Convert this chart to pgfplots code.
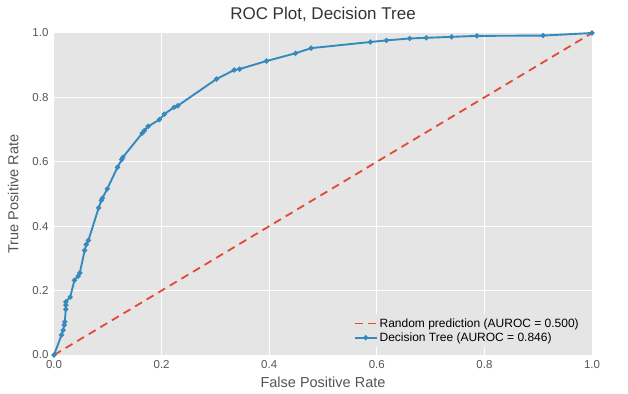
\documentclass[border=0pt]{standalone}
\usepackage{pgfplots}
\pgfplotsset{compat=1.18}
\usepackage{fontspec}
\setmainfont{Liberation Sans}
\definecolor{ggbg}{HTML}{E5E5E5}
\definecolor{ggred}{HTML}{E24A33}
\definecolor{ggblue}{HTML}{348ABD}
\definecolor{ggtext}{HTML}{555555}
\pgfplotsset{
  dashleg/.style={legend image code/.code={\draw[ggred, line width=1.8pt, dash pattern=on 8pt off 5.5pt] (0pt,0pt) -- (22pt,0pt);}},
  markleg/.style={legend image code/.code={\draw[ggblue, line width=1.9pt] (0pt,0pt) -- (22pt,0pt); \fill[ggblue] (11pt,0pt) circle (1.5pt);}},
}
\begin{document}
\begin{tikzpicture}
\begin{axis}[
  width=538pt, height=322pt, scale only axis,
  xmin=0, xmax=1, ymin=0, ymax=1,
  xtick={0,0.2,0.4,0.6,0.8,1}, ytick={0,0.2,0.4,0.6,0.8,1},
  axis background/.style={fill=ggbg},
  axis line style={draw=none},
  grid=major, grid style={white, line width=1pt},
  major tick length=0pt,
  /pgf/number format/.cd, fixed, fixed zerofill, precision=1, assume math mode=true,
  /pgfplots/.cd,
  tick label style={font=\fontsize{11.5}{13}\selectfont, text=ggtext},
  xticklabel style={yshift=-2pt},
  yticklabel style={xshift=-2pt},
  title={ROC Plot, Decision Tree},
  title style={font=\fontsize{17}{20}\selectfont, text=black!80, at={(axis description cs:0.5,1.04)}, anchor=center},
  xlabel={False Positive Rate}, ylabel={True Positive Rate},
  label style={font=\fontsize{14.5}{17}\selectfont, text=ggtext},
  xlabel style={at={(axis description cs:0.5,-0.086)}, anchor=center},
  ylabel style={at={(axis description cs:-0.076,0.5)}, anchor=center},
  legend style={at={(0.985,0.025)}, anchor=south east, draw=none, fill=ggbg,
    font=\fontsize{12}{14}\selectfont, row sep=0pt},
  legend cell align=left,
]
\addplot[ggred, line width=1.8pt, dash pattern=on 8pt off 5.5pt, no marks, dashleg] coordinates {(0,0) (1,1)};
\addlegendentry{Random prediction (AUROC = 0.500)}
\addplot[ggblue, line width=1.9pt, mark=*, mark size=1.5pt, markleg] coordinates {
(0,0) (0.014,0.062) (0.017,0.077) (0.019,0.093) (0.020,0.103) (0.022,0.142) (0.022,0.155) (0.022,0.165)
(0.030,0.180) (0.038,0.232) (0.045,0.245) (0.048,0.255) (0.057,0.325) (0.060,0.343) (0.064,0.356)
(0.083,0.457) (0.088,0.480) (0.090,0.487) (0.099,0.516) (0.118,0.583) (0.126,0.607) (0.128,0.614)
(0.164,0.689) (0.168,0.697) (0.175,0.710) (0.196,0.731) (0.205,0.748) (0.223,0.769) (0.230,0.774)
(0.302,0.857) (0.335,0.885) (0.345,0.888) (0.395,0.913) (0.449,0.937) (0.478,0.953) (0.588,0.972)
(0.618,0.977) (0.661,0.983) (0.692,0.985) (0.739,0.988) (0.786,0.991) (0.909,0.992) (1,1)};
\addlegendentry{Decision Tree (AUROC = 0.846)}
\end{axis}
\path ([shift={(-54pt,-38pt)}]current axis.south west) rectangle ([shift={(36pt,33pt)}]current axis.north east);
\end{tikzpicture}
\end{document}
